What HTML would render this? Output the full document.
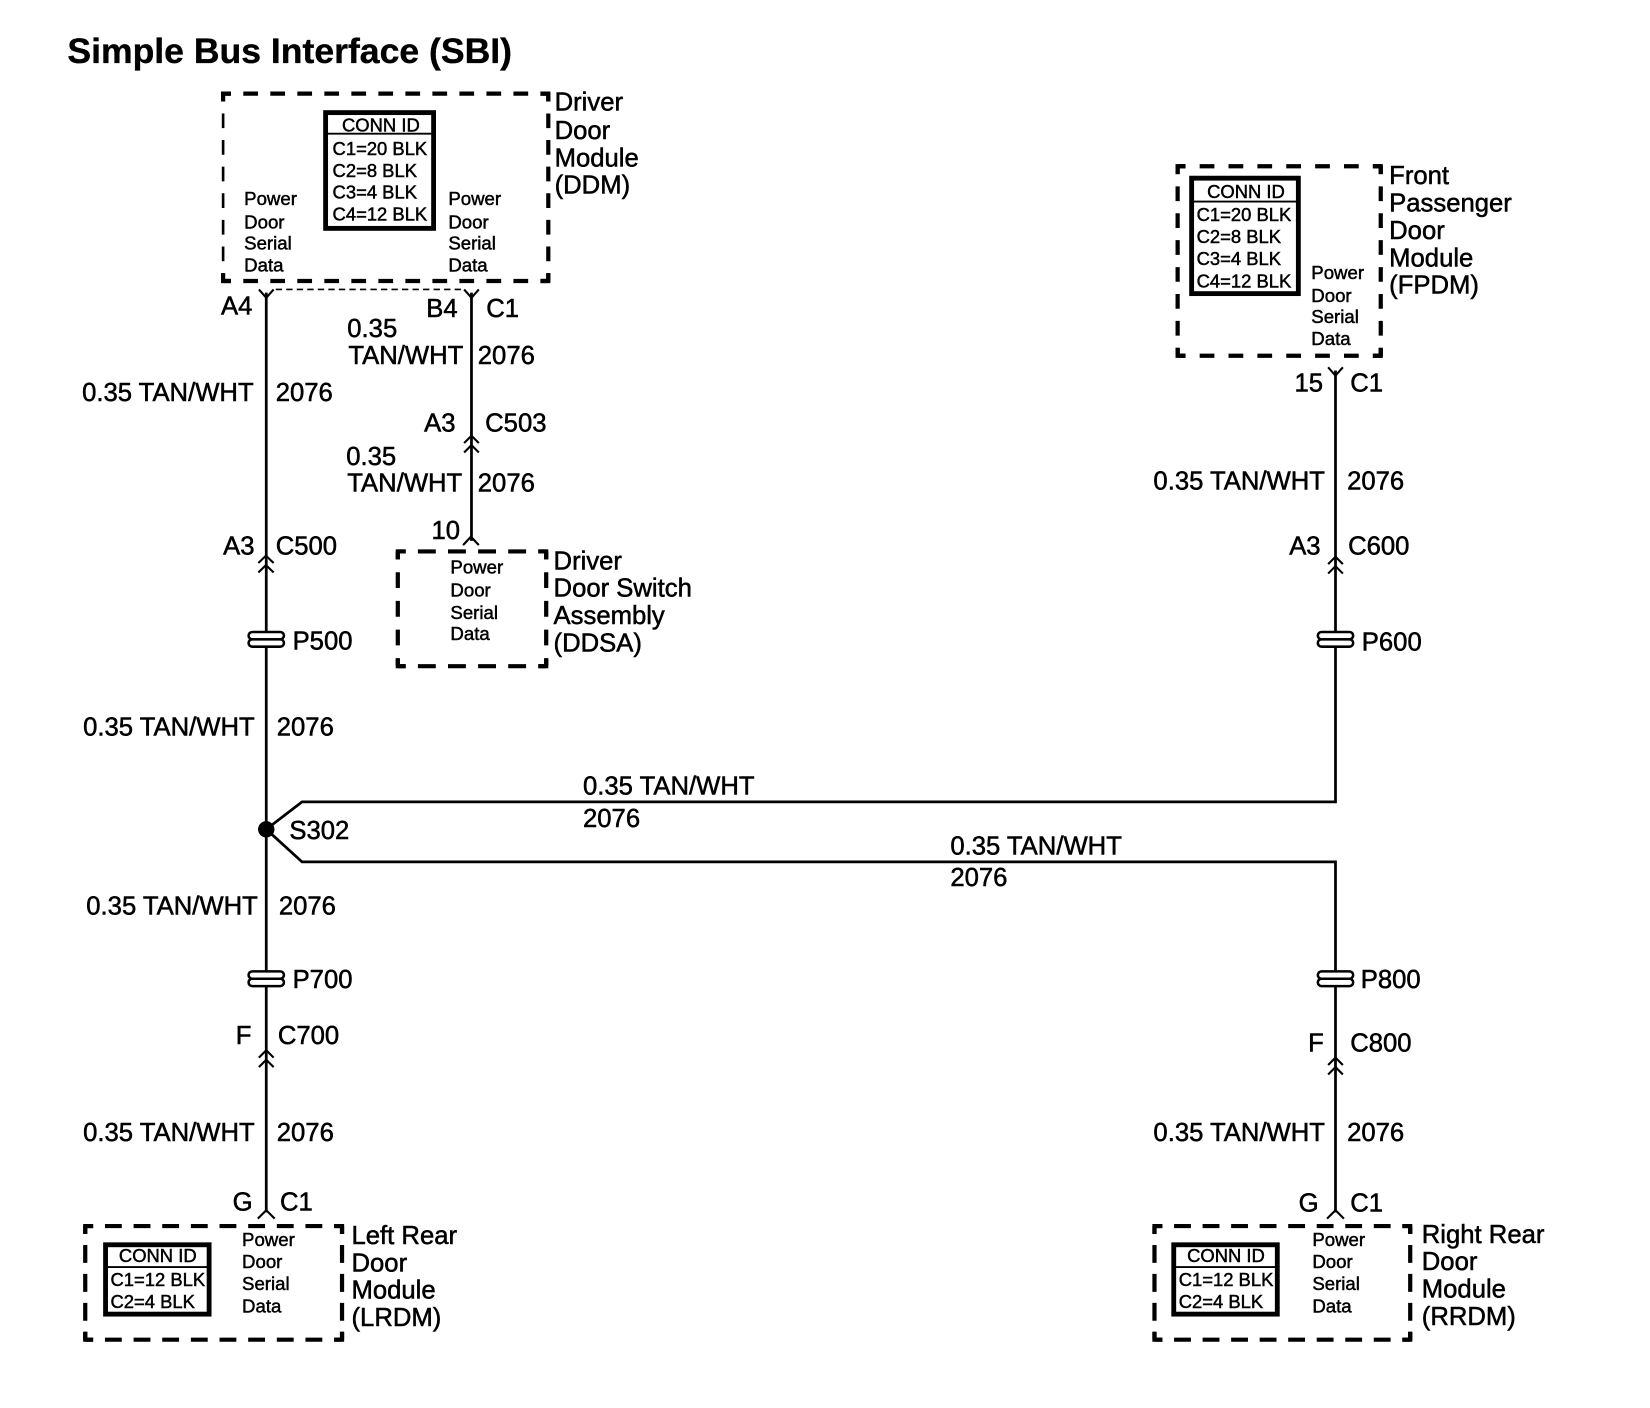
<!DOCTYPE html>
<html>
<head>
<meta charset="utf-8">
<style>
html,body{margin:0;padding:0;background:#fff}
svg{display:block}
text{font-family:"Liberation Sans",sans-serif;fill:#000;stroke:#000;stroke-width:.5}
.t{font-size:24.4px}
.s{font-size:17.7px;stroke-width:.45}
.c{font-size:17.5px;stroke-width:.45}
.h{font-size:33.8px;font-weight:bold;stroke-width:.35}
.w{fill:none;stroke:#000;stroke-width:2.6}
.a{fill:none;stroke:#000;stroke-width:2}
.d{fill:none;stroke:#000;stroke-width:4}
.b{fill:#fff;stroke:#000;stroke-width:4.6}
.p{fill:#fff;stroke:#000;stroke-width:2.400}
</style>
</head>
<body>
<svg width="1650" height="1408" viewBox="0 0 1650 1408" xmlns="http://www.w3.org/2000/svg">
<rect width="1650" height="1408" fill="#fff"/>
<g transform="scale(1.0524)">
<text class="h" x="64" y="60">Simple Bus Interface (SBI)</text>

<!-- wires -->
<path class="w" d="M253 278V601M253 615V923M253 937V1152"/>
<path class="w" d="M448 278V514"/>
<path class="w" d="M1269 352V601M1269 615V762H287L253 788L287 819H1269V923M1269 937V1152"/>
<path fill="none" stroke="#000" stroke-width="1.600" stroke-dasharray="6 4" d="M262 275H440"/>
<circle cx="253" cy="788" r="7.800"/>

<!-- Y connectors -->
<path class="a" d="M246 275L253 283L260 275M441 275L448 283L455 275M1262 349L1269 357L1276 349"/>
<path class="a" d="M440 518L447.500 510L455 518M245 1158L253 1150L261 1158M1261 1158L1269 1150L1277 1158"/>
<!-- double chevrons -->
<path class="a" d="M245.500 535L252.700 528L260 535M245.500 544L252.700 537L260 544"/>
<path class="a" d="M441 421L448 414L455 421M441 430L448 423L455 430"/>
<path class="a" d="M1262 536L1269 529L1276 536M1262 545L1269 538L1276 545"/>
<path class="a" d="M246 1005L253 998L260 1005M246 1014L253 1007L260 1014"/>
<path class="a" d="M1262 1012L1269 1005L1276 1012M1262 1021L1269 1014L1276 1021"/>

<!-- inline connectors -->
<g class="p">
<rect class="p" x="236.200" y="600.500" width="33.600" height="7" rx="3.500"/><rect class="p" x="236.200" y="607.500" width="33.600" height="7" rx="3.500"/>
<rect class="p" x="1252.200" y="600.500" width="33.600" height="7" rx="3.500"/><rect class="p" x="1252.200" y="607.500" width="33.600" height="7" rx="3.500"/>
<rect class="p" x="236.200" y="923" width="33.600" height="7" rx="3.500"/><rect class="p" x="236.200" y="930" width="33.600" height="7" rx="3.500"/>
<rect class="p" x="1252.200" y="923" width="33.600" height="7" rx="3.500"/><rect class="p" x="1252.200" y="930" width="33.600" height="7" rx="3.500"/>
</g>

<!-- DDM -->
<path class="d" stroke-dasharray="14 11.670" stroke-dashoffset="6.500" d="M212 89H521M212 267H521"/>
<path class="d" stroke-dasharray="14 11.290" stroke-dashoffset="6.500" d="M521 89V267"/>
<path class="d" style="stroke-width:2.500" stroke-dasharray="14 11.290" stroke-dashoffset="6.500" d="M212 89V267"/>
<path class="d" d="M219.500 89H212V96.500M513.500 89H521V96.500M219.500 267H212V259.500M513.500 267H521V259.500"/>
<rect class="b" x="309.400" y="107" width="102.600" height="110"/>
<path stroke="#000" stroke-width="1.800" d="M309 127H412"/>
<text class="c" x="325" y="125">CONN ID</text>
<text class="c" x="316" y="147.500">C1=20 BLK</text>
<text class="c" x="316" y="168">C2=8 BLK</text>
<text class="c" x="316" y="188.500">C3=4 BLK</text>
<text class="c" x="316" y="209.500">C4=12 BLK</text>
<text class="s" x="232" y="195">Power</text><text class="s" x="232" y="217">Door</text><text class="s" x="232" y="237">Serial</text><text class="s" x="232" y="258">Data</text>
<text class="s" x="426" y="195">Power</text><text class="s" x="426" y="217">Door</text><text class="s" x="426" y="237">Serial</text><text class="s" x="426" y="258">Data</text>
<text class="t" x="527" y="105">Driver</text><text class="t" x="527" y="132">Door</text><text class="t" x="527" y="158">Module</text><text class="t" x="527" y="184">(DDM)</text>

<!-- FPDM -->
<path class="d" stroke-dasharray="14 13.430" stroke-dashoffset="6.500" d="M1119 158H1312M1119 338H1312"/>
<path class="d" stroke-dasharray="14 11.570" stroke-dashoffset="6.500" d="M1119 158V338M1312 158V338"/>
<path class="d" d="M1126.500 158H1119V165.500M1304.500 158H1312V165.500M1126.500 338H1119V330.500M1304.500 338H1312V330.500"/>
<rect class="b" x="1132.300" y="169.300" width="101.400" height="109.700"/>
<path stroke="#000" stroke-width="1.800" d="M1132 191.500H1234"/>
<text class="c" x="1147" y="188">CONN ID</text>
<text class="c" x="1137" y="210">C1=20 BLK</text>
<text class="c" x="1137" y="231">C2=8 BLK</text>
<text class="c" x="1137" y="252">C3=4 BLK</text>
<text class="c" x="1137" y="273">C4=12 BLK</text>
<text class="s" x="1246" y="265">Power</text><text class="s" x="1246" y="287">Door</text><text class="s" x="1246" y="307">Serial</text><text class="s" x="1246" y="328">Data</text>
<text class="t" x="1320" y="175">Front</text><text class="t" x="1320" y="201">Passenger</text><text class="t" x="1320" y="227">Door</text><text class="t" x="1320" y="253">Module</text><text class="t" x="1320" y="279">(FPDM)</text>

<!-- DDSA -->
<path class="d" stroke-dasharray="17 11.600" stroke-dashoffset="9.500" d="M378 524H519M378 633H519"/>
<path class="d" stroke-dasharray="15 12.250" stroke-dashoffset="7.500" d="M378 524V633M519 524V633"/>
<path class="d" d="M385.500 524H378V531.500M511.500 524H519V531.500M385.500 633H378V625.500M511.500 633H519V625.500"/>
<text class="s" x="428" y="545">Power</text><text class="s" x="428" y="567">Door</text><text class="s" x="428" y="588">Serial</text><text class="s" x="428" y="608">Data</text>
<text class="t" x="526" y="541">Driver</text><text class="t" x="526" y="567">Door Switch</text><text class="t" x="526" y="593">Assembly</text><text class="t" x="526" y="619">(DDSA)</text>

<!-- LRDM -->
<path class="d" stroke-dasharray="16 11.220" stroke-dashoffset="8.500" d="M81 1165H325M81 1273H325"/>
<path class="d" stroke-dasharray="17 10.500" stroke-dashoffset="9.500" d="M81 1165V1273M325 1165V1273"/>
<path class="d" d="M88.500 1165H81V1172.500M317.500 1165H325V1172.500M88.500 1273H81V1265.500M317.500 1273H325V1265.500"/>
<rect class="b" x="100.300" y="1182.800" width="98.400" height="65.900"/>
<path stroke="#000" stroke-width="1.800" d="M100 1204H199"/>
<text class="c" x="113" y="1199">CONN ID</text>
<text class="c" x="105" y="1222">C1=12 BLK</text>
<text class="c" x="105" y="1243">C2=4 BLK</text>
<text class="s" x="230" y="1184">Power</text><text class="s" x="230" y="1205">Door</text><text class="s" x="230" y="1226">Serial</text><text class="s" x="230" y="1247">Data</text>
<text class="t" x="334" y="1182">Left Rear</text><text class="t" x="334" y="1208">Door</text><text class="t" x="334" y="1234">Module</text><text class="t" x="334" y="1260">(LRDM)</text>

<!-- RRDM -->
<path class="d" stroke-dasharray="16 11.110" stroke-dashoffset="8.500" d="M1097 1165H1340M1097 1273H1340"/>
<path class="d" stroke-dasharray="17 10.500" stroke-dashoffset="9.500" d="M1097 1165V1273M1340 1165V1273"/>
<path class="d" d="M1104.500 1165H1097V1172.500M1332.500 1165H1340V1172.500M1104.500 1273H1097V1265.500M1332.500 1273H1340V1265.500"/>
<rect class="b" x="1115.300" y="1182.800" width="98.400" height="65.900"/>
<path stroke="#000" stroke-width="1.800" d="M1115 1204H1214"/>
<text class="c" x="1128" y="1199">CONN ID</text>
<text class="c" x="1120" y="1222">C1=12 BLK</text>
<text class="c" x="1120" y="1243">C2=4 BLK</text>
<text class="s" x="1247" y="1184">Power</text><text class="s" x="1247" y="1205">Door</text><text class="s" x="1247" y="1226">Serial</text><text class="s" x="1247" y="1247">Data</text>
<text class="t" x="1351" y="1181">Right Rear</text><text class="t" x="1351" y="1207">Door</text><text class="t" x="1351" y="1233">Module</text><text class="t" x="1351" y="1259">(RRDM)</text>

<!-- labels -->
<text class="t" x="210" y="299">A4</text>
<text class="t" x="405" y="301">B4</text>
<text class="t" x="462" y="301">C1</text>
<text class="t" x="330" y="320">0.35</text>
<text class="t" x="331" y="346">TAN/WHT</text>
<text class="t" x="454" y="346">2076</text>
<text class="t" x="78" y="381">0.35 TAN/WHT</text>
<text class="t" x="262" y="381">2076</text>
<text class="t" x="403" y="410">A3</text>
<text class="t" x="461" y="410">C503</text>
<text class="t" x="329" y="442">0.35</text>
<text class="t" x="330" y="467">TAN/WHT</text>
<text class="t" x="454" y="467">2076</text>
<text class="t" x="410" y="512">10</text>
<text class="t" x="212" y="527">A3</text>
<text class="t" x="262" y="527">C500</text>
<text class="t" x="278" y="617">P500</text>
<text class="t" x="79" y="699">0.35 TAN/WHT</text>
<text class="t" x="263" y="699">2076</text>
<text class="t" x="275" y="797">S302</text>
<text class="t" x="82" y="869">0.35 TAN/WHT</text>
<text class="t" x="265" y="869">2076</text>
<text class="t" x="278" y="939">P700</text>
<text class="t" x="224" y="992">F</text>
<text class="t" x="264" y="992">C700</text>
<text class="t" x="79" y="1084">0.35 TAN/WHT</text>
<text class="t" x="263" y="1084">2076</text>
<text class="t" x="221" y="1150">G</text>
<text class="t" x="266" y="1150">C1</text>
<text class="t" x="1230" y="372">15</text>
<text class="t" x="1283" y="372">C1</text>
<text class="t" x="1096" y="465">0.35 TAN/WHT</text>
<text class="t" x="1280" y="465">2076</text>
<text class="t" x="1225" y="527">A3</text>
<text class="t" x="1281" y="527">C600</text>
<text class="t" x="1294" y="618">P600</text>
<text class="t" x="554" y="755">0.35 TAN/WHT</text>
<text class="t" x="554" y="786">2076</text>
<text class="t" x="903" y="812">0.35 TAN/WHT</text>
<text class="t" x="903" y="842">2076</text>
<text class="t" x="1293" y="939">P800</text>
<text class="t" x="1243" y="999">F</text>
<text class="t" x="1283" y="999">C800</text>
<text class="t" x="1096" y="1084">0.35 TAN/WHT</text>
<text class="t" x="1280" y="1084">2076</text>
<text class="t" x="1234" y="1151">G</text>
<text class="t" x="1283" y="1151">C1</text>
</g>
</svg>
</body>
</html>
